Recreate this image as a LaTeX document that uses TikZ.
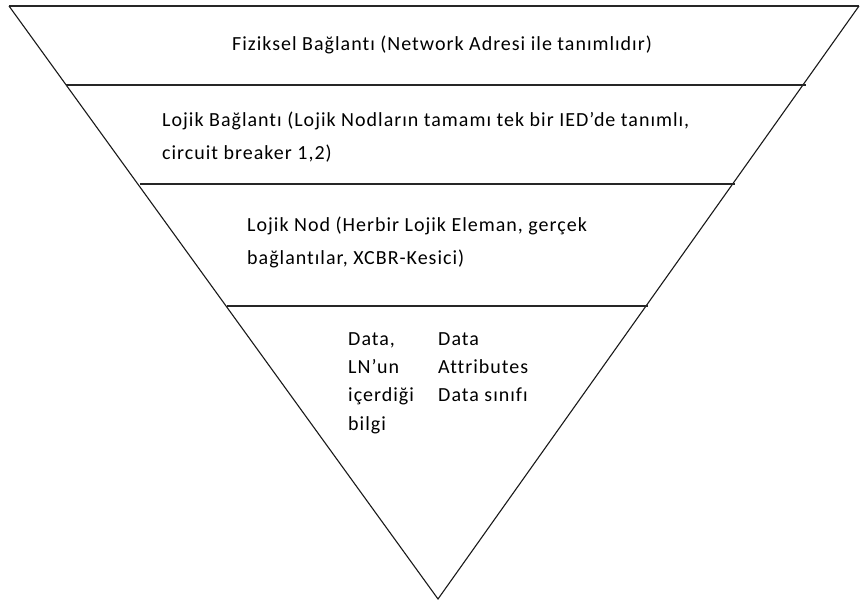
\documentclass[tikz,border=0pt]{standalone}
\usepackage{fontspec}
\setmainfont{Carlito}
\newfontfamily\labelfont[LetterSpace=5,Ligatures=NoCommon]{Carlito}
\begin{document}
\begin{tikzpicture}[x=1pt,y=-1pt,
  edge/.style={line width=1.4pt, black!85},
  side/.style={line width=1.1pt, black!90},
  label/.style={inner sep=0pt, anchor=base west, font=\labelfont\fontsize{20}{20}\selectfont}]
\useasboundingbox (0,0) rectangle (860,604);
% corners of the inverted triangle
\coordinate (tl) at (9,6);
\coordinate (tr) at (859,6);
\coordinate (apex) at (438,599);
% points where the dividing lines meet the sides
\coordinate (l1) at (65.5,85);   \coordinate (r1) at (806,85);
\coordinate (l2) at (140,184);   \coordinate (r2) at (735,184);
\coordinate (l3) at (227,306);   \coordinate (r3) at (648,306);
\draw[edge] (tl) -- (tr);
\draw[side] (tl) -- (apex) -- (tr);
\draw[edge] (l1) -- (r1);
\draw[edge] (l2) -- (r2);
\draw[edge] (l3) -- (r3);
% layer texts
\node[label] (t1) at (232,51) {Fiziksel Bağlantı (Network Adresi ile tanımlıdır)};
\node[label] (t2a) at (162,127) {Lojik Bağlantı (Lojik Nodların tamamı tek bir IED’de tanımlı,};
\node[label] (t2b) at (162,160) {circuit breaker 1,2)};
\node[label] (t3a) at (247,232) {Lojik Nod (Herbir Lojik Eleman, gerçek};
\node[label] (t3b) at (247,265) {bağlantılar, XCBR-Kesici)};
\node[label] (d1) at (348,345) {Data,};
\node[label] (d2) at (348,373) {LN’un};
\node[label] (d3) at (348,401) {içerdiği};
\node[label] (d4) at (348,430) {bilgi};
\node[label] (a1) at (438,345) {Data};
\node[label] (a2) at (438,373) {Attributes};
\node[label] (a3) at (438,401) {Data sınıfı};
\end{tikzpicture}
\end{document}
